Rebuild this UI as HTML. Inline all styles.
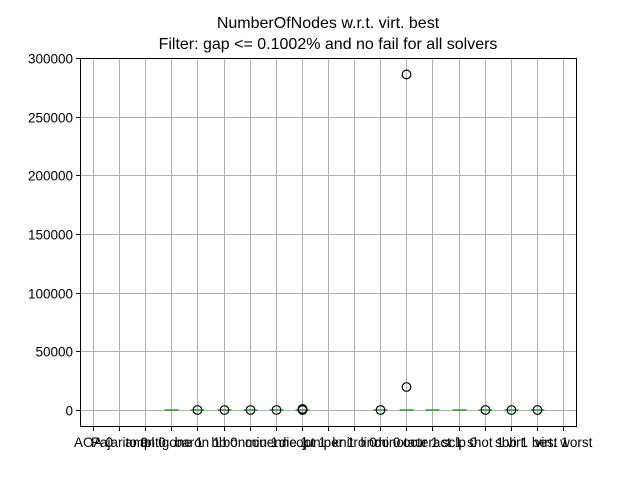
<!DOCTYPE html>
<html><head><meta charset="utf-8"><style>
body{margin:0;background:#fff;}
svg text{font-family:"Liberation Sans","DejaVu Sans",sans-serif;}
</style></head><body>
<svg id="chart" width="640" height="480" xmlns="http://www.w3.org/2000/svg">
<rect width="640" height="480" fill="#fff"/>
<text x="328" y="28" font-size="16" text-anchor="middle">NumberOfNodes w.r.t. virt. best</text>
<text x="328" y="49" font-size="16" text-anchor="middle">Filter: gap &lt;= 0.1002% and no fail for all solvers</text>
<g id="grid"></g>
<g id="marks"></g>
<rect x="80.5" y="58.5" width="496" height="368" fill="none" stroke="#000" stroke-width="1"/>
<g id="axes"></g>
</svg>
<script>
const categories = ["AOA 0","Pajarito 0","ampl 0","antigone 1","baron 1","bb 0","bonmin 1","couenne 1","dicopt 1","juniper 1","knitro 0","lindo 0","minotaur 1","octeract 1","scip 0","shot 1","sbb 1","virt. best 1","virt. worst"];
const medians = [null,null,null,0,0,0,0,0,0,null,null,0,0,0,0,0,0,0,null];
const outliers = [[],[],[],[],[0],[0],[0],[0],[0,200,900],[],[],[0],[286000,19600],[],[],[0],[0],[0],[]];
const yTicks = [0,50000,100000,150000,200000,250000,300000];

const L=80,R=576,T=58,B=427;
const x=i=>L+(i+0.5)*(R-L)/categories.length;
const y=v=>410-v*352/300000;
const NS="http://www.w3.org/2000/svg";
function mk(tag,attrs,parent){const e=document.createElementNS(NS,tag);for(const k in attrs)e.setAttribute(k,attrs[k]);parent.appendChild(e);return e;}
const grid=document.getElementById('grid'),marks=document.getElementById('marks'),axes=document.getElementById('axes');
yTicks.forEach(t=>{
  const yy=Math.round(y(t))+0.5;
  const g=mk('line',{x1:L,x2:R,y1:yy,y2:yy,stroke:'#b0b0b0','stroke-width':1},grid);
  
  
  mk('line',{x1:L-4,x2:L,y1:yy,y2:yy,stroke:'#000'},axes);
  const tx=mk('text',{x:L-7,y:yy+5,'font-size':13.5,'text-anchor':'end'},axes);
  tx.textContent=t;
  
  
});
categories.forEach((c,i)=>{
  const xx=Math.round(x(i))+0.5;
  const g=mk('line',{x1:xx,x2:xx,y1:T,y2:B,stroke:'#b0b0b0','stroke-width':1},grid);
  
  
  mk('line',{x1:xx,x2:xx,y1:B,y2:B+4,stroke:'#000'},axes);
  const tx=mk('text',{x:xx,y:B+20,'font-size':13.5,'text-anchor':'middle'},axes);
  tx.textContent=c;
  
  
  if(medians[i]!==null){
    const m=mk('line',{x1:xx-7,x2:xx+7,y1:y(medians[i]),y2:y(medians[i]),stroke:'#2ca02c','stroke-width':1.5},marks);
    
    
  }
  outliers[i].forEach(v=>{
    const o=mk('circle',{cx:xx,cy:y(v),r:4.3,fill:'none',stroke:'#000','stroke-width':1.2},marks);
    
    
  });
});
</script>
</body></html>
